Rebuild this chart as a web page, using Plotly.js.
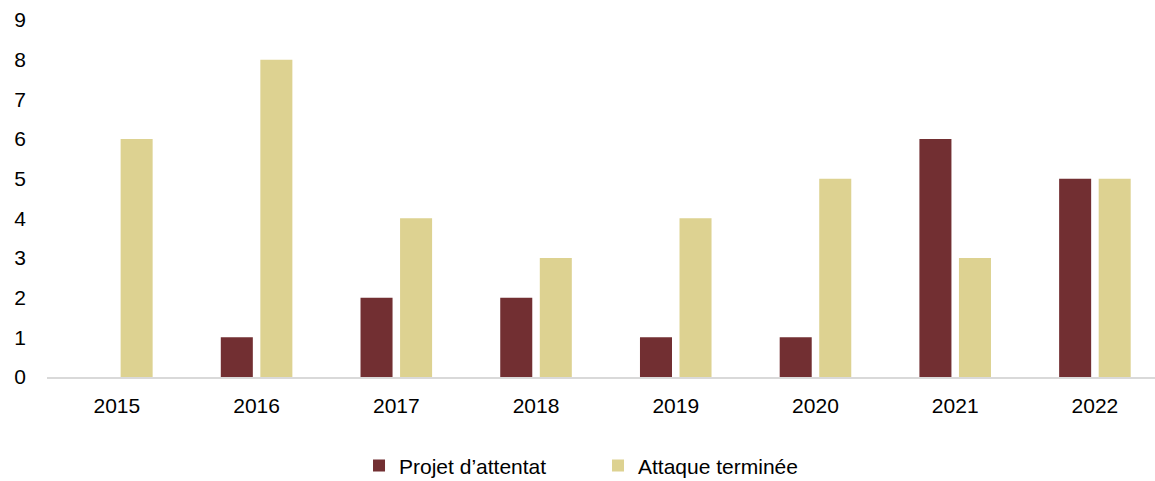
<!DOCTYPE html>
<html>
<head>
<meta charset="utf-8">
<script src="https://cdn.plot.ly/plotly-3.0.1.min.js"></script>
<style>html,body{margin:0;padding:0;background:#fff;}#chart{width:1155px;height:481px;}</style>
</head>
<body>
<div id="chart"></div>
<script>
const years = ["2015", "2016", "2017", "2018", "2019", "2020", "2021", "2022"];
const projetAttentat = [0, 1, 2, 2, 1, 1, 6, 5];
const attaqueTerminee = [6, 8, 4, 3, 4, 5, 3, 5];
const seriesNames = ["Projet d\u2019attentat", "Attaque terminée"];
const yTicks = [0, 1, 2, 3, 4, 5, 6, 7, 8, 9];

const font = {family: "Arial, 'Liberation Sans', sans-serif", size: 21, color: "#000000"};

const traces = [
  {type: "bar", name: seriesNames[0], x: years, y: projetAttentat, marker: {color: "#722F32"}, hoverinfo: "none"},
  {type: "bar", name: seriesNames[1], x: years, y: attaqueTerminee, marker: {color: "#DDD291"}, hoverinfo: "none"}
];

const layout = {
  width: 1155, height: 481,
  margin: {l: 47, r: 0, t: 20, b: 104, autoexpand: false},
  paper_bgcolor: "#ffffff", plot_bgcolor: "#ffffff",
  font: font,
  barmode: "group",
  bargap: 0.434,
  bargroupgap: 0.19,
  showlegend: true,
  legend: {
    orientation: "h", x: 0.2816, xanchor: "left", y: -0.249, yanchor: "middle",
    font: font, entrywidth: 194, traceorder: "normal"
  },
  xaxis: {
    type: "category", range: [-0.5, 7.43],
    showline: true, linecolor: "#D9D9D9", linewidth: 2,
    showgrid: false, zeroline: false, ticks: "", tickfont: font, ticklabelstandoff: 9
  },
  yaxis: {
    range: [0, 9], tickvals: yTicks, showline: false, showgrid: false, zeroline: false,
    ticks: "", tickfont: font, ticklabelstandoff: 20
  }
};

Plotly.newPlot("chart", traces, layout, {displayModeBar: false, staticPlot: true});
</script>
</body>
</html>
